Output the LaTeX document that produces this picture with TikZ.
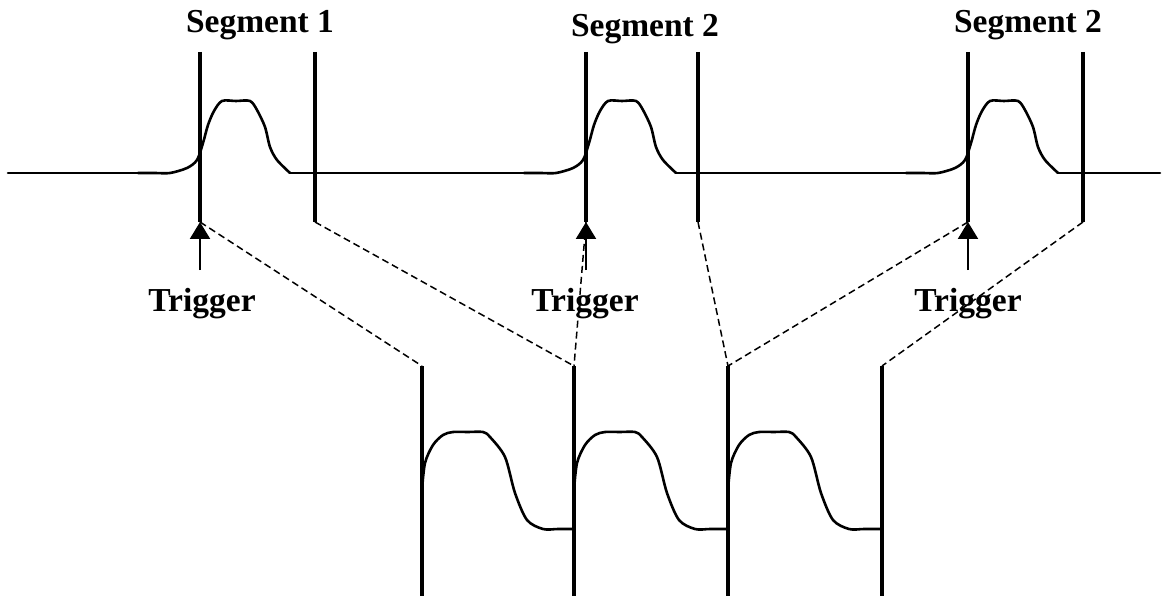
\documentclass[tikz,border=0pt]{standalone}
\usepackage{fontspec}
\setmainfont{Liberation Serif}
\usetikzlibrary{arrows.meta}
\begin{document}
\begin{tikzpicture}[x=1pt,y=-1pt,
  wave/.style={line width=2.6pt, line join=round, line cap=round},
  marker/.style={line width=3.2pt},
  link/.style={dash pattern=on 7pt off 4pt, line width=1.5pt},
  lbl/.style={font=\bfseries\fontsize{33.5}{40}\selectfont, anchor=base, inner sep=0pt},
  trig/.style={line width=2.2pt, -{Triangle[width=20pt,length=17pt]}},
  toppulse/.pic={\draw[wave] plot[smooth,tension=0.5] coordinates {(-62,0) (-45,0) (-30,0) (-13,-5) (-3,-13) (3,-30) (8,-48) (14,-62) (22,-72) (36,-72) (50,-72) (57,-63) (65,-46) (70,-26) (77,-13) (90,0)};},
  botpulse/.pic={\draw[wave] plot[smooth,tension=0.5] coordinates {(0,-39) (3,-66) (11,-84) (21,-94) (31,-97) (46,-97) (61,-97) (68,-92) (83,-72) (93,-36) (105,-9) (121,0) (136,0) (152,0)};}]
\useasboundingbox (0,0) rectangle (1162,596);

% top markers
\foreach \n/\x in {s1a/200,s1b/315,s2a/586,s2b/698,s3a/968,s3b/1083}{
  \coordinate (\n t) at (\x,52);
  \coordinate (\n e) at (\x,222);
  \coordinate (\n r) at (\x,270);
}
% bottom markers
\foreach \n/\x in {b1/422,b2/574,b3/728,b4/882}{
  \coordinate (\n t) at (\x,366);
  \coordinate (\n e) at (\x,596);
}

% dashed links
\draw[link] (s1ae) -- (b1t);
\draw[link] (s1be) -- (b2t);
\draw[link] (s2ae) -- (b2t);
\draw[link] (s2be) -- (b3t);
\draw[link] (s3ae) -- (b3t);
\draw[link] (s3be) -- (b4t);

% top signal
\draw[wave] (8,173) -- (138,173);
\draw[wave] (290,173) -- (524,173);
\draw[wave] (676,173) -- (906,173);
\draw[wave] (1058,173) -- (1160,173);
\foreach \x in {200,586,968}{ \pic at (\x,173) {toppulse}; }

% bottom signal
\foreach \x in {422,574,728}{ \pic at (\x,529) {botpulse}; }

% marker lines
\foreach \n in {s1a,s1b,s2a,s2b,s3a,s3b,b1,b2,b3,b4}{
  \draw[marker] (\n t) -- (\n e);
}

% labels
\node[lbl] (seg1) at (260,33) {Segment 1};
\node[lbl] (seg2) at (645,37) {Segment 2};
\node[lbl] (seg3) at (1028,33) {Segment 2};
\node[lbl] (tr1) at (202,311) {Trigger};
\node[lbl] (tr2) at (585,311) {Trigger};
\node[lbl] (tr3) at (968,311) {Trigger};

% trigger arrows
\draw[trig] (s1ar) -- (s1ae);
\draw[trig] (s2ar) -- (s2ae);
\draw[trig] (s3ar) -- (s3ae);
\end{tikzpicture}
\end{document}
